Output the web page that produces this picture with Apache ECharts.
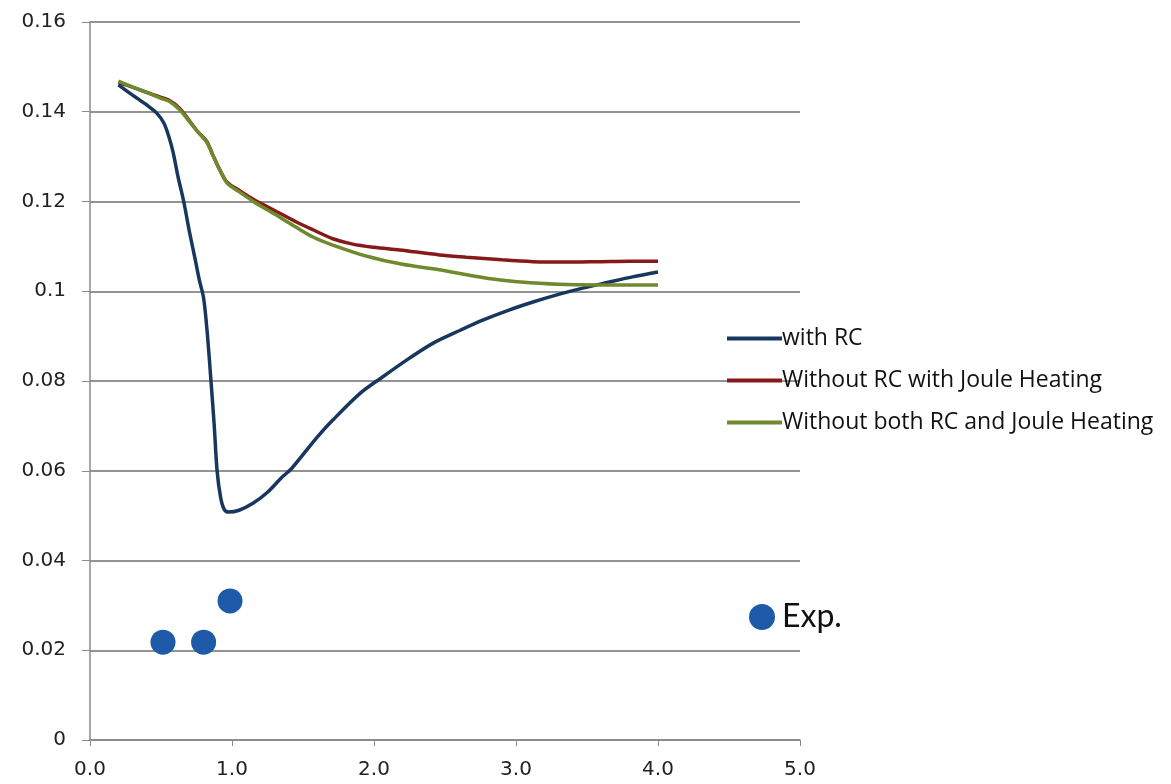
<!DOCTYPE html>
<html>
<head>
<meta charset="utf-8">
<script src="https://cdn.jsdelivr.net/npm/echarts@6/dist/echarts.min.js"></script>
<style>
html,body{margin:0;padding:0;background:#fff;}
#chart{width:1171px;height:784px;}
</style>
</head>
<body>
<div id="chart"></div>
<script>
// ---- Data ----
const seriesNames = ['with RC', 'Without RC with Joule Heating', 'Without both RC and Joule Heating', 'Exp.'];

const withRC = [
  [0.2,0.146],[0.3,0.1437],[0.4,0.1415],[0.47,0.1397],[0.52,0.1375],[0.555,0.1345],[0.585,0.131],
  [0.62,0.1255],[0.66,0.12],[0.7,0.1133],[0.74,0.1072],[0.77,0.1025],[0.8,0.0985],
  [0.825,0.091],[0.852,0.08],[0.875,0.07],[0.895,0.06],[0.92,0.054],[0.945,0.0514],
  [0.975,0.0508],[1.05,0.0512],[1.15,0.0528],[1.25,0.0552],[1.35,0.0585],[1.42,0.0605],
  [1.6,0.0675],[1.71,0.0713],[1.9,0.0772],[2.06,0.0809],[2.25,0.0851],[2.42,0.0885],
  [2.6,0.0912],[2.77,0.0936],[2.95,0.0958],[3.12,0.0976],[3.3,0.0993],[3.47,0.1007],
  [3.65,0.102],[3.82,0.1032],[4.0,0.1043]
];

const withoutRCJoule = [
  [0.2,0.1465],[0.3,0.1455],[0.4,0.1443],[0.5,0.1432],[0.56,0.1425],[0.63,0.1408],
  [0.7,0.138],[0.76,0.1355],[0.82,0.1335],[0.87,0.130],[0.915,0.127],[0.965,0.1243],
  [1.05,0.1225],[1.15,0.1205],[1.3,0.118],[1.45,0.1155],[1.57,0.1137],[1.71,0.1117],
  [1.85,0.1105],[2.0,0.1098],[2.18,0.1092],[2.46,0.1081],[2.65,0.1076],[2.9,0.107],
  [3.12,0.1066],[3.35,0.1065],[3.59,0.1066],[3.8,0.1067],[4.0,0.1067]
];

const withoutBoth = [
  [0.2,0.1468],[0.3,0.1455],[0.4,0.1443],[0.5,0.143],[0.56,0.1423],[0.63,0.1405],
  [0.7,0.1378],[0.76,0.1355],[0.82,0.1333],[0.87,0.130],[0.915,0.127],[0.965,0.1241],
  [1.05,0.1222],[1.15,0.12],[1.3,0.1172],[1.45,0.1143],[1.57,0.1121],[1.71,0.1103],
  [1.95,0.1078],[2.2,0.106],[2.46,0.1048],[2.7,0.1034],[2.89,0.1025],[3.1,0.1019],
  [3.36,0.1015],[3.7,0.1014],[4.0,0.1014]
];

const expData = [[0.514,0.0218],[0.80,0.0218],[0.986,0.031]];

const xTicks = [0, 1, 2, 3, 4, 5];
const yTicks = [0, 0.02, 0.04, 0.06, 0.08, 0.1, 0.12, 0.14, 0.16];

// ---- Chart ----
const chart = echarts.init(document.getElementById('chart'), null, {renderer: 'canvas'});
const labelFont = "DejaVu Sans";
const legendFont = "Open Sans";

chart.setOption({
  backgroundColor: '#ffffff',
  animation: false,
  grid: {left: 90, right: 371, top: 22, bottom: 44, containLabel: false},
  legend: [
    {
      data: seriesNames.slice(0, 3),
      orient: 'vertical',
      left: 722,
      top: 322,
      icon: 'rect',
      itemWidth: 55,
      itemHeight: 4,
      itemGap: 19,
      textStyle: {fontFamily: legendFont, fontSize: 23, color: '#111', padding: [0,0,0,-5]}
    },
    {
      data: [seriesNames[3]],
      orient: 'vertical',
      left: 744,
      top: 596,
      icon: 'circle',
      itemWidth: 26,
      itemHeight: 26,
      textStyle: {fontFamily: "Lato", fontSize: 32, color: '#111', padding: [0,0,0,2]}
    }
  ],
  xAxis: {
    type: 'value',
    min: xTicks[0],
    max: xTicks[xTicks.length - 1],
    interval: 1,
    axisLine: {show: true, lineStyle: {color: '#8a8a8a', width: 1.5}},
    axisTick: {show: true, inside: false, length: 6, lineStyle: {color: '#8a8a8a'}},
    splitLine: {show: false},
    axisLabel: {
      fontFamily: labelFont, fontSize: 20, color: '#222', margin: 20,
      formatter: v => v.toFixed(1)
    }
  },
  yAxis: {
    type: 'value',
    min: yTicks[0],
    max: yTicks[yTicks.length - 1],
    interval: 0.02,
    axisLine: {show: true, lineStyle: {color: '#8a8a8a', width: 1.5}},
    axisTick: {show: true, length: 8, lineStyle: {color: '#8a8a8a'}},
    splitLine: {show: true, lineStyle: {color: '#6f6f6f', width: 1.5}},
    axisLabel: {
      fontFamily: labelFont, fontSize: 20, color: '#222', margin: 24,
      formatter: v => String(Math.round(v * 100) / 100)
    }
  },
  series: [
    {
      name: seriesNames[0], type: 'line', data: withRC, smooth: 0.3,
      showSymbol: false, symbol: 'none',
      lineStyle: {color: '#17375e', width: 3.5},
      itemStyle: {color: '#17375e'}, z: 3
    },
    {
      name: seriesNames[1], type: 'line', data: withoutRCJoule, smooth: 0.3,
      showSymbol: false, symbol: 'none',
      lineStyle: {color: '#861a1a', width: 3.5},
      itemStyle: {color: '#861a1a'}, z: 2
    },
    {
      name: seriesNames[2], type: 'line', data: withoutBoth, smooth: 0.3,
      showSymbol: false, symbol: 'none',
      lineStyle: {color: '#6e8a2c', width: 3.5},
      itemStyle: {color: '#6e8a2c'}, z: 4
    },
    {
      name: seriesNames[3], type: 'scatter', data: expData,
      symbol: 'circle', symbolSize: 25,
      itemStyle: {color: '#1f5aa8', opacity: 1}, z: 5
    }
  ]
});
</script>
</body>
</html>
